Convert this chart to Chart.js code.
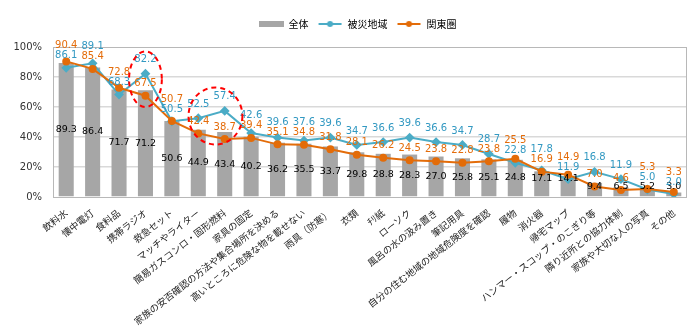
<!DOCTYPE html>
<html>
<head>
<meta charset="utf-8">
<script src="https://cdn.jsdelivr.net/npm/chart.js@4.4.0/dist/chart.umd.min.js"></script>
<style>
  html, body { margin: 0; padding: 0; background: #fff; }
</style>
</head>
<body>
<canvas id="chart" width="700" height="330"></canvas>
<script>
// categories and values (percent)
const categories = [
  '飲料水', '懐中電灯', '食料品', '携帯ラジオ', '救急セット', 'マッチやライター',
  '簡易ガスコンロ・固形燃料', '家具の固定', '家族の安否確認の方法や集合場所を決める',
  '高いところに危険な物を載せない', '雨具（防寒）', '衣類', 'ﾁﾘ紙', 'ローソク',
  '風呂の水の汲み置き', '筆記用具', '自分の住む地域の地域危険度を確認', '履物',
  '消火器', '帰宅マップ', 'ハンマー・スコップ・のこぎり等', '隣り近所との協力体制',
  '家族や大切な人の写真', 'その他'
];
const overall = [89.3, 86.4, 71.7, 71.2, 50.6, 44.9, 43.4, 40.2, 36.2, 35.5, 33.7, 29.8,
  28.8, 28.3, 27.0, 25.8, 25.1, 24.8, 17.1, 14.1, 9.4, 6.5, 5.2, 3.0];
const disasterArea = [86.1, 89.1, 68.3, 82.2, 50.5, 52.5, 57.4, 42.6, 39.6, 37.6, 39.6, 34.7,
  36.6, 39.6, 36.6, 34.7, 28.7, 22.8, 17.8, 11.9, 16.8, 11.9, 5.0, 2.0];
const kanto = [90.4, 85.4, 72.8, 67.5, 50.7, 42.4, 38.7, 39.4, 35.1, 34.8, 31.8, 28.1,
  26.2, 24.5, 23.8, 22.8, 23.8, 25.5, 16.9, 14.9, 7.0, 4.6, 5.3, 3.3];
const seriesNames = ['全体', '被災地域', '関東圏'];
const yTicks = [0, 20, 40, 60, 80, 100];

const GRAY = '#a6a6a6';
const BLUE = '#4bacc6';
const ORANGE = '#e36c09';

// small canvases used as legend symbols
function legendIcon(kind, color) {
  const c = document.createElement('canvas');
  c.width = 25; c.height = 8;
  const g = c.getContext('2d');
  if (kind === 'bar') {
    g.fillStyle = color;
    g.fillRect(0, 1, 25, 6);
  } else {
    g.strokeStyle = color;
    g.lineWidth = 2;
    g.beginPath(); g.moveTo(1, 4); g.lineTo(24, 4); g.stroke();
    g.fillStyle = color;
    g.beginPath(); g.arc(12.5, 4, 3, 0, Math.PI * 2); g.fill();
  }
  return c;
}

// fixed legend height so the plot starts where it does in the picture,
// and nudge the legend a bit right/down like the original
const legendTweak = {
  id: 'legendTweak',
  beforeInit(chart) {
    const lg = chart.legend;
    const fit = lg.fit;
    lg.fit = function () {
      fit.call(this);
      this.height = 47;
    };
    const draw = lg.draw;
    lg.draw = function () {
      this.ctx.save();
      this.ctx.translate(14, 10);
      draw.call(this);
      this.ctx.restore();
    };
  }
};

// plot frame
const frame = {
  id: 'frame',
  beforeDatasetsDraw(chart) {
    const { ctx, chartArea: a } = chart;
    ctx.save();
    ctx.strokeStyle = '#b8b8b8';
    ctx.lineWidth = 1;
    ctx.strokeRect(a.left + 0.5, a.top + 0.5, a.right - a.left - 1, a.bottom - a.top);
    ctx.restore();
  }
};

// data labels for bars and both lines
const valueLabels = {
  id: 'valueLabels',
  afterDatasetsDraw(chart) {
    const { ctx } = chart;
    const bars = chart.getDatasetMeta(0).data;
    const blue = chart.getDatasetMeta(1).data;
    const orange = chart.getDatasetMeta(2).data;
    ctx.save();
    ctx.textAlign = 'center';
    ctx.textBaseline = 'middle';
    ctx.font = '9.5px "DejaVu Sans"';
    ctx.fillStyle = '#000';
    bars.forEach((b, i) => {
      let y = (b.y + b.base) / 2;
      y = Math.min(y, overall[i] < 10 ? 187 : 179);
      ctx.fillText(overall[i].toFixed(1), b.x, y);
    });
    ctx.font = '10px "DejaVu Sans"';
    blue.forEach((pb, i) => {
      const pk = orange[i];
      let by, ky;
      if (pb.y <= pk.y) {
        ky = pk.y - 12;
        by = Math.min(pb.y - 14, ky - 10);
      } else {
        by = pb.y - 12;
        ky = Math.min(pk.y - 14, by - 10);
      }
      ctx.fillStyle = '#3399c2';
      ctx.fillText(disasterArea[i].toFixed(1), pb.x, by);
      ctx.fillStyle = '#e46c0a';
      ctx.fillText(kanto[i].toFixed(1), pk.x, ky);
    });
    ctx.restore();
  }
};

// red dashed ellipses around the highlighted items
const highlights = [
  { at: 3, from: 60, to: 97, halfWidth: 0.62 },
  { at: 5.65, from: 35, to: 73, halfWidth: 1.02 }
];
const ellipses = {
  id: 'ellipses',
  afterDraw(chart) {
    const { ctx, scales: { x, y } } = chart;
    ctx.save();
    ctx.strokeStyle = '#ff0000';
    ctx.lineWidth = 2;
    ctx.setLineDash([5, 4]);
    highlights.forEach(h => {
      const cx = x.getPixelForValue(h.at);
      const rx = x.getPixelForValue(h.at + h.halfWidth) - cx;
      const y1 = y.getPixelForValue(h.to), y2 = y.getPixelForValue(h.from);
      ctx.beginPath();
      ctx.ellipse(cx, (y1 + y2) / 2, rx, (y2 - y1) / 2, 0, 0, Math.PI * 2);
      ctx.stroke();
    });
    ctx.restore();
  }
};

new Chart(document.getElementById('chart'), {
  data: {
    labels: categories,
    datasets: [
      {
        type: 'bar', label: seriesNames[0], data: overall, order: 2,
        backgroundColor: GRAY, barPercentage: 0.57, categoryPercentage: 1
      },
      {
        type: 'line', label: seriesNames[1], data: disasterArea, order: 1,
        borderColor: BLUE, backgroundColor: BLUE, borderWidth: 2,
        pointStyle: 'rectRot', pointRadius: 3.5, tension: 0
      },
      {
        type: 'line', label: seriesNames[2], data: kanto, order: 0,
        borderColor: ORANGE, backgroundColor: ORANGE, borderWidth: 2,
        pointStyle: 'circle', pointRadius: 3, tension: 0
      }
    ]
  },
  options: {
    responsive: false,
    animation: false,
    layout: { padding: { left: 0, right: 13, top: 0, bottom: 0 } },
    plugins: {
      tooltip: { enabled: false },
      legend: {
        position: 'top',
        labels: {
          usePointStyle: true,
          pointStyleWidth: 25,
          boxHeight: 10,
          padding: 9,
          color: '#000',
          font: { family: '"Noto Sans CJK JP"', size: 10 },
          generateLabels(chart) {
            const icons = [legendIcon('bar', GRAY), legendIcon('line', BLUE), legendIcon('line', ORANGE)];
            return chart.data.datasets.map((ds, i) => ({
              text: ds.label, pointStyle: icons[i], datasetIndex: i,
              fillStyle: 'transparent', strokeStyle: 'transparent', lineWidth: 0,
              hidden: false, fontColor: '#000'
            }));
          }
        }
      }
    },
    scales: {
      x: {
        afterFit(s) { s.height = 133; },
        grid: { display: false },
        border: { display: false },
        ticks: {
          autoSkip: false, minRotation: 38, maxRotation: 38, padding: 2,
          color: '#222', font: { family: '"Noto Sans CJK JP"', size: 9.5 }
        }
      },
      y: {
        min: 0, max: 100,
        afterFit(s) { s.width = 53; },
        afterBuildTicks(s) { s.ticks = yTicks.map(v => ({ value: v })); },
        border: { display: false },
        grid: {
          drawTicks: false,
          color: ctx => (ctx.tick.value === 0 || ctx.tick.value === 100) ? 'transparent' : '#d9d9d9',
          lineWidth: 1.5
        },
        ticks: {
          padding: 11, color: '#333',
          font: { family: '"DejaVu Sans"', size: 10 },
          callback: v => v + '%'
        }
      }
    }
  },
  plugins: [legendTweak, frame, valueLabels, ellipses]
});
</script>
</body>
</html>
